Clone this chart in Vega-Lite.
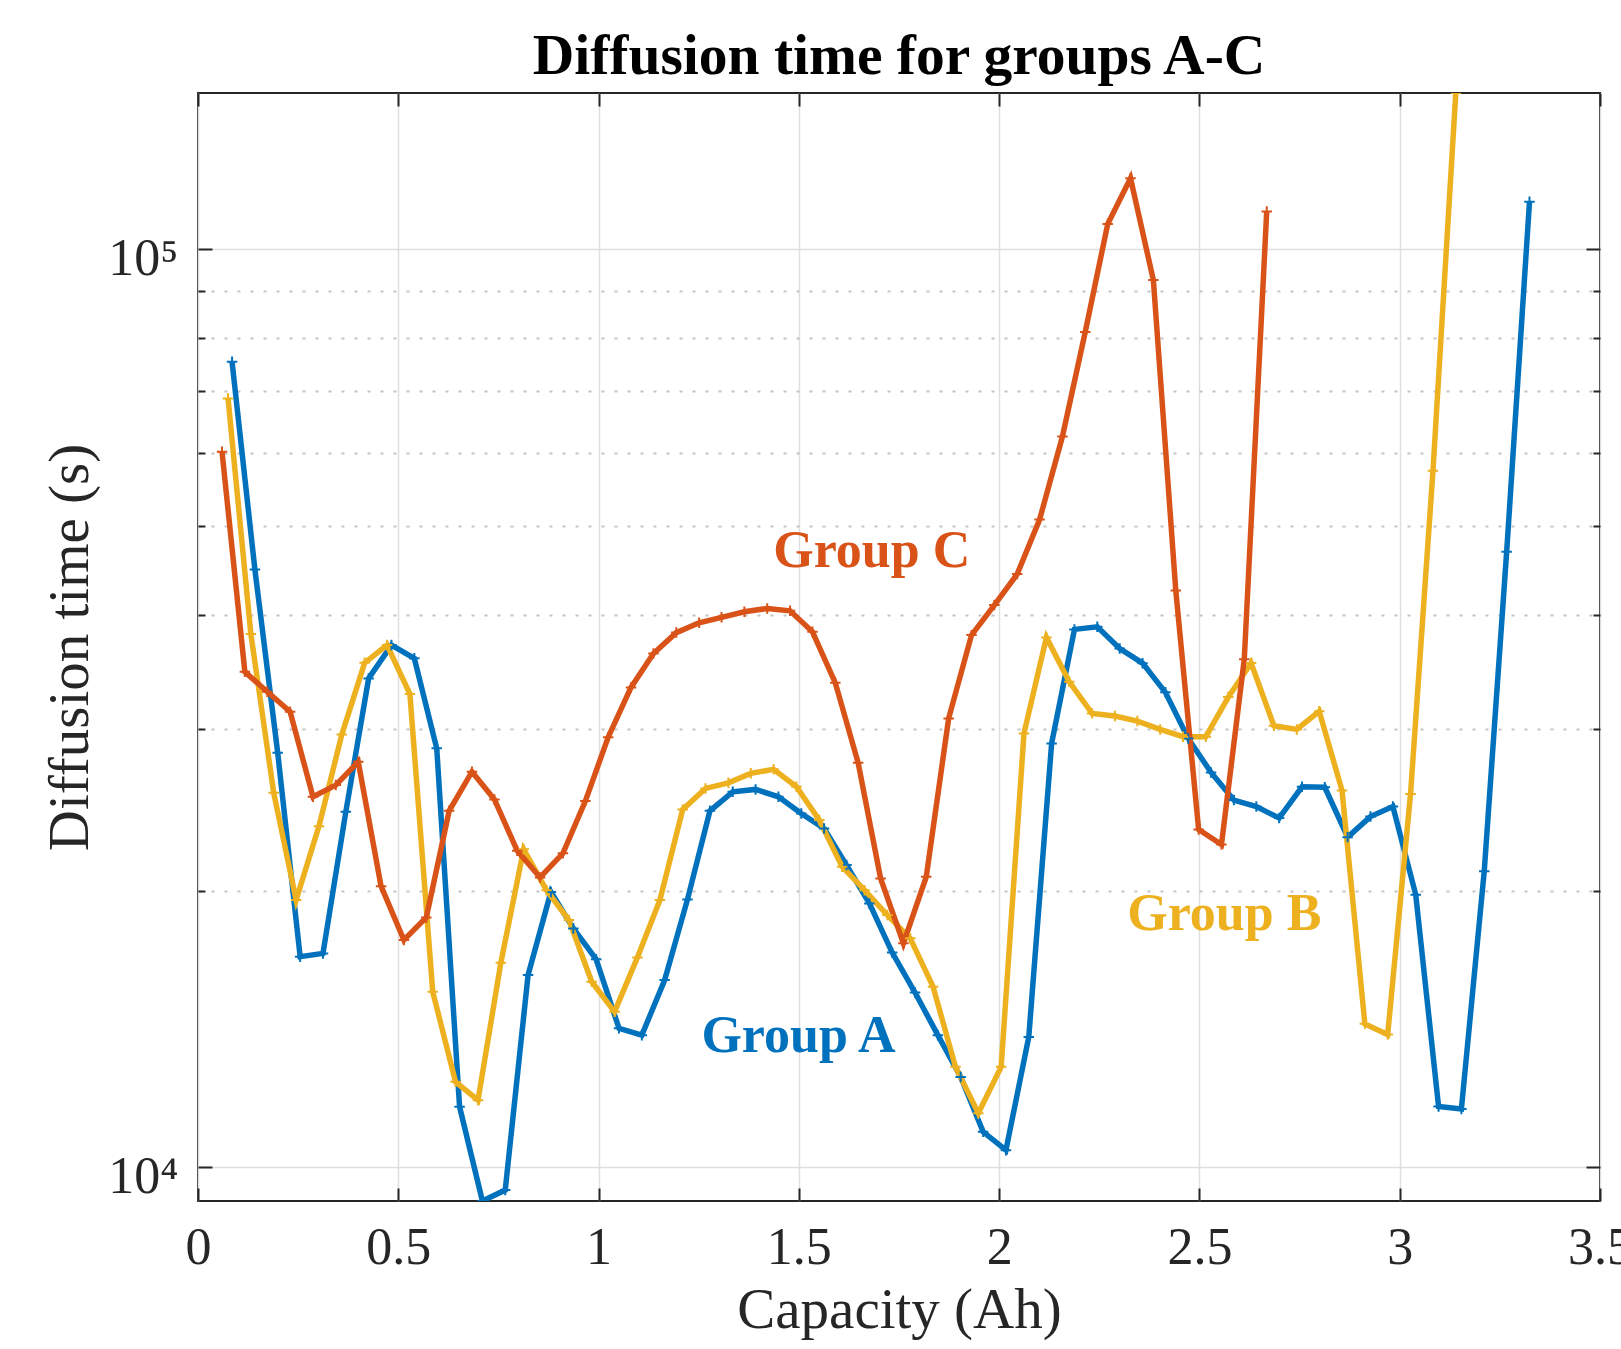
{
  "$schema": "https://vega.github.io/schema/vega-lite/v6.json",
  "width": 1402,
  "height": 1108,
  "autosize": {"type": "none"},
  "padding": {"left": 198, "top": 93, "right": 21, "bottom": 148},
  "background": "white",
  "config": {"view": {"stroke": "#262626", "strokeWidth": 2}, "font": "Liberation Serif"},
  "title": {"text": "Diffusion time for groups A-C", "font": "Liberation Serif", "fontSize": 57.5, "fontWeight": "bold", "color": "#000000", "anchor": "middle", "frame": "group", "baseline": "alphabetic", "offset": 18, "dy": 59},
  "datasets": {
    "series": [
      {"g":"A","x":0.085,"y":75400},{"g":"A","x":0.142,"y":44800},{"g":"A","x":0.199,"y":28280},{"g":"A","x":0.255,"y":16960},{"g":"A","x":0.312,"y":17100},{"g":"A","x":0.369,"y":24390},{"g":"A","x":0.426,"y":34080},{"g":"A","x":0.483,"y":37050},{"g":"A","x":0.540,"y":35840},{"g":"A","x":0.596,"y":28600},{"g":"A","x":0.653,"y":11640},{"g":"A","x":0.710,"y":9190},{"g":"A","x":0.767,"y":9445},{"g":"A","x":0.824,"y":16195},{"g":"A","x":0.881,"y":19950},{"g":"A","x":0.937,"y":18205},{"g":"A","x":0.994,"y":16850},{"g":"A","x":1.051,"y":14170},{"g":"A","x":1.108,"y":13930},{"g":"A","x":1.165,"y":15995},{"g":"A","x":1.222,"y":19580},{"g":"A","x":1.278,"y":24450},{"g":"A","x":1.335,"y":25645},{"g":"A","x":1.392,"y":25800},{"g":"A","x":1.449,"y":25325},{"g":"A","x":1.506,"y":24290},{"g":"A","x":1.563,"y":23395},{"g":"A","x":1.619,"y":21340},{"g":"A","x":1.676,"y":19385},{"g":"A","x":1.733,"y":17135},{"g":"A","x":1.790,"y":15500},{"g":"A","x":1.847,"y":13930},{"g":"A","x":1.904,"y":12545},{"g":"A","x":1.960,"y":10930},{"g":"A","x":2.017,"y":10440},{"g":"A","x":2.074,"y":13870},{"g":"A","x":2.131,"y":28950},{"g":"A","x":2.188,"y":38540},{"g":"A","x":2.245,"y":38790},{"g":"A","x":2.301,"y":36740},{"g":"A","x":2.358,"y":35410},{"g":"A","x":2.415,"y":32910},{"g":"A","x":2.472,"y":29320},{"g":"A","x":2.529,"y":26920},{"g":"A","x":2.586,"y":25120},{"g":"A","x":2.642,"y":24715},{"g":"A","x":2.699,"y":24010},{"g":"A","x":2.756,"y":25970},{"g":"A","x":2.813,"y":25940},{"g":"A","x":2.870,"y":22890},{"g":"A","x":2.927,"y":24100},{"g":"A","x":2.983,"y":24715},{"g":"A","x":3.040,"y":19815},{"g":"A","x":3.097,"y":11650},{"g":"A","x":3.154,"y":11575},{"g":"A","x":3.211,"y":21015},{"g":"A","x":3.267,"y":46820},{"g":"A","x":3.324,"y":112620},
      {"g":"B","x":0.075,"y":68790},{"g":"B","x":0.132,"y":38090},{"g":"B","x":0.189,"y":25580},{"g":"B","x":0.245,"y":19545},{"g":"B","x":0.302,"y":23530},{"g":"B","x":0.359,"y":29600},{"g":"B","x":0.416,"y":35440},{"g":"B","x":0.472,"y":37050},{"g":"B","x":0.529,"y":32770},{"g":"B","x":0.586,"y":15530},{"g":"B","x":0.643,"y":12390},{"g":"B","x":0.699,"y":11833},{"g":"B","x":0.756,"y":16700},{"g":"B","x":0.813,"y":22200},{"g":"B","x":0.870,"y":20040},{"g":"B","x":0.926,"y":18590},{"g":"B","x":0.983,"y":15925},{"g":"B","x":1.040,"y":14770},{"g":"B","x":1.097,"y":16930},{"g":"B","x":1.153,"y":19545},{"g":"B","x":1.210,"y":24535},{"g":"B","x":1.267,"y":25865},{"g":"B","x":1.324,"y":26230},{"g":"B","x":1.380,"y":26860},{"g":"B","x":1.437,"y":27130},{"g":"B","x":1.494,"y":25970},{"g":"B","x":1.551,"y":23890},{"g":"B","x":1.608,"y":21250},{"g":"B","x":1.664,"y":20040},{"g":"B","x":1.721,"y":18825},{"g":"B","x":1.778,"y":17760},{"g":"B","x":1.835,"y":15730},{"g":"B","x":1.891,"y":12865},{"g":"B","x":1.948,"y":11450},{"g":"B","x":2.005,"y":12865},{"g":"B","x":2.062,"y":29690},{"g":"B","x":2.118,"y":37775},{"g":"B","x":2.175,"y":33790},{"g":"B","x":2.232,"y":31220},{"g":"B","x":2.289,"y":31010},{"g":"B","x":2.345,"y":30620},{"g":"B","x":2.402,"y":29990},{"g":"B","x":2.459,"y":29450},{"g":"B","x":2.516,"y":29450},{"g":"B","x":2.572,"y":32520},{"g":"B","x":2.629,"y":35430},{"g":"B","x":2.686,"y":30260},{"g":"B","x":2.743,"y":29990},{"g":"B","x":2.799,"y":31380},{"g":"B","x":2.856,"y":25730},{"g":"B","x":2.913,"y":14330},{"g":"B","x":2.970,"y":13950},{"g":"B","x":3.027,"y":25500},{"g":"B","x":3.083,"y":57360},{"g":"B","x":3.140,"y":147960},
      {"g":"C","x":0.060,"y":60170},{"g":"C","x":0.117,"y":34650},{"g":"C","x":0.173,"y":32960},{"g":"C","x":0.230,"y":31350},{"g":"C","x":0.287,"y":25325},{"g":"C","x":0.344,"y":26080},{"g":"C","x":0.400,"y":27650},{"g":"C","x":0.457,"y":20240},{"g":"C","x":0.514,"y":17685},{"g":"C","x":0.570,"y":18715},{"g":"C","x":0.627,"y":24450},{"g":"C","x":0.684,"y":26970},{"g":"C","x":0.740,"y":25160},{"g":"C","x":0.797,"y":22120},{"g":"C","x":0.854,"y":20690},{"g":"C","x":0.911,"y":21980},{"g":"C","x":0.967,"y":25055},{"g":"C","x":1.024,"y":29410},{"g":"C","x":1.081,"y":33320},{"g":"C","x":1.137,"y":36280},{"g":"C","x":1.194,"y":38230},{"g":"C","x":1.251,"y":39180},{"g":"C","x":1.307,"y":39720},{"g":"C","x":1.364,"y":40280},{"g":"C","x":1.421,"y":40620},{"g":"C","x":1.478,"y":40380},{"g":"C","x":1.534,"y":38310},{"g":"C","x":1.591,"y":33705},{"g":"C","x":1.648,"y":27580},{"g":"C","x":1.704,"y":20640},{"g":"C","x":1.761,"y":17540},{"g":"C","x":1.818,"y":20720},{"g":"C","x":1.874,"y":30830},{"g":"C","x":1.931,"y":37990},{"g":"C","x":1.988,"y":40960},{"g":"C","x":2.045,"y":44270},{"g":"C","x":2.101,"y":50760},{"g":"C","x":2.158,"y":62510},{"g":"C","x":2.215,"y":81270},{"g":"C","x":2.271,"y":106500},{"g":"C","x":2.328,"y":119500},{"g":"C","x":2.385,"y":92540},{"g":"C","x":2.441,"y":42480},{"g":"C","x":2.498,"y":23330},{"g":"C","x":2.555,"y":22470},{"g":"C","x":2.612,"y":35770},{"g":"C","x":2.668,"y":109940}
    ],
    "labels": [
      {"label":"Group C","g":"C","x":1.682,"y":45110},
      {"label":"Group A","g":"A","x":1.499,"y":13350},
      {"label":"Group B","g":"B","x":2.562,"y":18130}
    ]
  },
  "layer": [
    {
      "data": {"name": "series"},
      "mark": {"type": "line", "strokeWidth": 5.5, "clip": true},
      "encoding": {
        "x": {"field": "x", "type": "quantitative", "scale": {"domain": [0, 3.5], "nice": false, "zero": false},
          "axis": {"orient": "bottom", "values": [0, 0.5, 1, 1.5, 2, 2.5, 3, 3.5], "labelExpr": "datum.value + ''",
            "title": "Capacity (Ah)", "titleFont": "Liberation Serif", "titleFontSize": 57, "titleFontWeight": "normal", "titleColor": "#262626",
            "titleX": 701, "titleY": 126, "titleAlign": "center", "titleBaseline": "alphabetic", "titleAnchor": null,
            "labelFont": "Liberation Serif", "labelFontSize": 52, "labelColor": "#262626", "labelBaseline": "alphabetic", "labelPadding": 75,
            "labelFlush": false, "labelOverlap": false, "domain": false, "ticks": true, "tickSize": -13, "tickColor": "#262626", "tickWidth": 2,
            "grid": true, "gridColor": "#DFDFDF", "gridWidth": 1.5}},
        "y": {"field": "y", "type": "quantitative", "scale": {"type": "log", "domain": [9190, 147960], "nice": false},
          "axis": {"orient": "left", "values": [10000, 20000, 30000, 40000, 50000, 60000, 70000, 80000, 90000, 100000],
            "labelExpr": "datum.value == 10000 ? '10⁴' : (datum.value == 100000 ? '10⁵' : '')",
            "title": "Diffusion time (s)", "titleFont": "Liberation Serif", "titleFontSize": 57, "titleFontWeight": "normal", "titleColor": "#262626",
            "titleX": -111, "titleY": 554, "titleAngle": 270, "titleAlign": "center", "titleBaseline": "alphabetic", "titleAnchor": null,
            "labelFont": "Liberation Serif", "labelFontSize": 52, "labelColor": "#262626", "labelAlign": "right", "labelBaseline": "alphabetic", "labelOffset": 25, "labelPadding": 34,
            "labelFlush": false, "labelOverlap": false, "domain": false, "ticks": true,
            "tickSize": {"condition": {"test": "datum.value == 10000 || datum.value == 100000", "value": -14}, "value": -7},
            "tickColor": "#262626", "tickWidth": 2,
            "grid": true,
            "gridColor": {"condition": {"test": "datum.value == 10000 || datum.value == 100000", "value": "#DFDFDF"}, "value": "#C4C4C4"},
            "gridDash": {"condition": {"test": "datum.value == 10000 || datum.value == 100000", "value": []}, "value": [3, 10]},
            "gridWidth": {"condition": {"test": "datum.value == 10000 || datum.value == 100000", "value": 1.5}, "value": 2}}},
        "color": {"field": "g", "type": "nominal", "scale": {"domain": ["A", "B", "C"], "range": ["#0072BD", "#EDB120", "#D95319"]}, "legend": null}
      }
    },
    {
      "data": {"name": "series"},
      "mark": {"type": "point", "shape": "M-1,0H1M0,-1V1", "size": 110, "strokeWidth": 2, "filled": false, "opacity": 1, "clip": true},
      "encoding": {
        "x": {"field": "x", "type": "quantitative", "scale": {"domain": [0, 3.5], "nice": false, "zero": false}, "axis": null},
        "y": {"field": "y", "type": "quantitative", "scale": {"type": "log", "domain": [9190, 147960], "nice": false}, "axis": null},
        "color": {"field": "g", "type": "nominal", "legend": null}
      }
    },
    {
      "data": {"name": "labels"},
      "mark": {"type": "text", "font": "Liberation Serif", "fontSize": 52, "fontWeight": "bold", "align": "center", "baseline": "alphabetic"},
      "encoding": {
        "x": {"field": "x", "type": "quantitative", "scale": {"domain": [0, 3.5], "nice": false, "zero": false}, "axis": null},
        "y": {"field": "y", "type": "quantitative", "scale": {"type": "log", "domain": [9190, 147960], "nice": false}, "axis": null},
        "text": {"field": "label"},
        "color": {"field": "g", "type": "nominal", "legend": null}
      }
    },
    {
      "data": {"name": "series"},
      "mark": {"type": "point", "opacity": 0},
      "encoding": {
        "x": {"field": "x", "type": "quantitative", "scale": {"domain": [0, 3.5], "nice": false, "zero": false},
          "axis": {"orient": "top", "values": [0, 0.5, 1, 1.5, 2, 2.5, 3, 3.5], "labels": false, "title": null, "grid": false, "domain": false,
            "ticks": true, "tickSize": -13, "tickColor": "#262626", "tickWidth": 2}},
        "y": {"field": "y", "type": "quantitative", "scale": {"type": "log", "domain": [9190, 147960], "nice": false},
          "axis": {"orient": "right", "values": [10000, 20000, 30000, 40000, 50000, 60000, 70000, 80000, 90000, 100000], "labels": false, "title": null, "grid": false, "domain": false,
            "ticks": true, "tickSize": {"condition": {"test": "datum.value == 10000 || datum.value == 100000", "value": -14}, "value": -7}, "tickColor": "#262626", "tickWidth": 2}}
      }
    }
  ],
  "resolve": {"axis": {"x": "independent", "y": "independent"}}
}
